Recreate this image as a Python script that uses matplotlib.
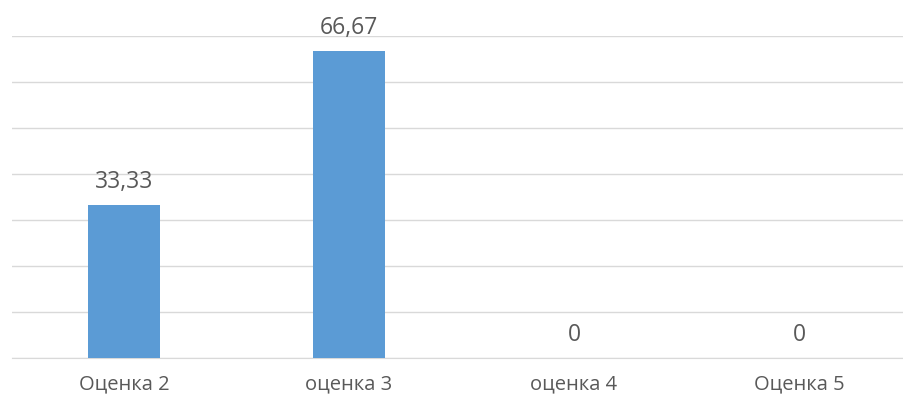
import matplotlib.pyplot as plt

# data
categories = ["Оценка 2", "оценка 3", "оценка 4", "Оценка 5"]
values = [33.33, 66.67, 0, 0]
value_labels = ["33,33", "66,67", "0", "0"]

plt.rcParams["font.family"] = ["Open Sans", "DejaVu Sans"]

fig = plt.figure(figsize=(9.04, 4.01), dpi=100)
ax = fig.add_axes([11.5 / 904, 43 / 401, 900 / 904, 322 / 401])

x = range(len(categories))
ax.bar(x, values, width=0.32, color="#5B9BD5", zorder=3)

for i, (v, lab) in enumerate(zip(values, value_labels)):
    ax.annotate(lab, (i, v), xytext=(0, 8), textcoords="offset points",
                ha="center", va="bottom", fontsize=16.5, color="#595959")

ax.set_xlim(-0.5, 3.5)
ax.set_ylim(0, 70)
ax.set_yticks(range(0, 71, 10))
ax.yaxis.grid(True, color="#D9D9D9", linewidth=1, zorder=0)
ax.tick_params(axis="y", left=False, labelleft=False)
ax.tick_params(axis="x", length=0, pad=12, labelsize=14.5, labelcolor="#595959")
ax.set_xticks(list(x))
ax.set_xticklabels(categories)

for s in ["top", "right", "left"]:
    ax.spines[s].set_visible(False)
ax.spines["bottom"].set_color("#D9D9D9")

fig.savefig("out.png", dpi=100)
